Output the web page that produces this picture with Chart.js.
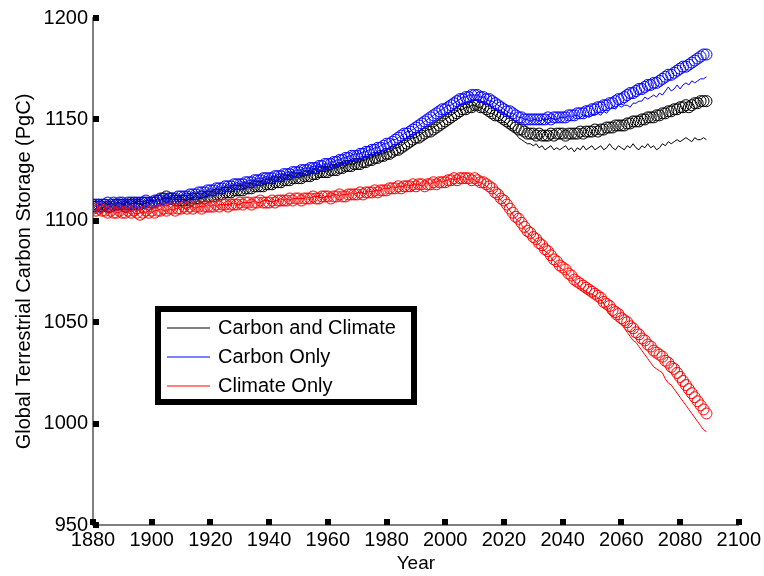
<!DOCTYPE html>
<html>
<head>
<meta charset="utf-8">
<script src="https://cdn.jsdelivr.net/npm/chart.js@4.4.1/dist/chart.umd.min.js"></script>
<style>
  body { margin: 0; background: #fff; }
  #wrap { width: 764px; height: 576px; }
</style>
</head>
<body>
<div id="wrap"><canvas id="storageChart" width="764" height="576"></canvas></div>
<script>
// annual values, 1880 - 2089 (PgC)
var firstYear = 1880;
var legendLabels = ['Carbon and Climate', 'Carbon Only', 'Climate Only'];

// circles
var carbonClimateMarks = [
  1107,1107,1108,1107,1108,1107,1107,1108,1108,1108,
  1108,1107,1108,1108,1109,1108,1108,1109,1109,1108,
  1109,1109,1110,1111,1111,1112,1111,1111,1110,1110,
  1110,1110,1111,1110,1111,1111,1111,1112,1111,1112,
  1112,1112,1113,1113,1113,1114,1114,1114,1115,1115,
  1115,1115,1116,1116,1116,1117,1117,1117,1117,1118,
  1118,1118,1119,1119,1119,1120,1120,1120,1121,1121,
  1121,1121,1122,1122,1122,1123,1123,1124,1124,1124,
  1124,1125,1125,1125,1126,1126,1127,1127,1127,1128,
  1128,1128,1129,1129,1130,1130,1131,1131,1132,1132,
  1133,1133,1134,1135,1135,1136,1137,1138,1139,1140,
  1141,1141,1142,1143,1144,1144,1145,1146,1147,1148,
  1149,1150,1151,1152,1153,1154,1155,1155,1156,1156,
  1157,1157,1156,1156,1155,1154,1153,1152,1152,1151,
  1150,1149,1148,1147,1146,1145,1145,1144,1143,1143,
  1143,1142,1143,1142,1142,1142,1143,1142,1143,1143,
  1143,1142,1143,1143,1143,1143,1144,1143,1144,1144,
  1144,1145,1144,1145,1145,1146,1146,1146,1147,1147,
  1147,1147,1148,1148,1149,1149,1149,1150,1150,1151,
  1151,1151,1152,1152,1153,1153,1154,1154,1155,1155,
  1156,1156,1157,1156,1157,1158,1158,1159,1159,1159
];
var carbonOnlyMarks = [
  1108,1108,1107,1108,1108,1109,1108,1109,1108,1109,
  1109,1108,1109,1109,1108,1109,1109,1109,1110,1109,
  1109,1110,1110,1110,1111,1110,1111,1111,1111,1112,
  1112,1112,1112,1113,1113,1113,1114,1114,1114,1115,
  1115,1115,1116,1116,1116,1117,1117,1117,1118,1118,
  1118,1118,1119,1119,1119,1120,1120,1120,1121,1121,
  1121,1121,1122,1122,1122,1123,1123,1123,1124,1124,
  1124,1125,1125,1125,1126,1126,1126,1127,1127,1128,
  1128,1128,1129,1129,1130,1130,1131,1131,1132,1132,
  1132,1133,1133,1134,1134,1135,1135,1136,1136,1137,
  1138,1138,1139,1140,1141,1142,1143,1143,1144,1145,
  1146,1147,1148,1149,1150,1151,1152,1153,1154,1155,
  1155,1156,1157,1158,1159,1160,1160,1161,1161,1162,
  1162,1162,1161,1161,1160,1160,1159,1158,1157,1156,
  1155,1154,1154,1153,1152,1151,1151,1150,1150,1150,
  1150,1150,1150,1150,1150,1151,1150,1151,1151,1151,
  1151,1151,1152,1152,1152,1153,1153,1153,1154,1154,
  1155,1155,1156,1156,1157,1157,1158,1158,1159,1160,
  1160,1161,1162,1163,1163,1164,1165,1165,1166,1167,
  1167,1168,1168,1169,1170,1171,1172,1172,1173,1174,
  1175,1176,1176,1177,1178,1179,1180,1181,1182,1182
];
var climateOnlyMarks = [
  1106,1105,1106,1105,1105,1104,1105,1104,1104,1105,
  1104,1104,1105,1104,1105,1104,1103,1104,1105,1104,
  1105,1104,1105,1105,1106,1105,1106,1106,1105,1106,
  1106,1107,1106,1107,1106,1107,1107,1106,1107,1107,
  1107,1107,1108,1107,1108,1108,1107,1108,1108,1108,
  1109,1108,1109,1109,1108,1109,1109,1110,1109,1109,
  1109,1110,1109,1110,1110,1110,1110,1111,1110,1111,
  1111,1110,1111,1111,1111,1112,1111,1111,1112,1112,
  1112,1111,1112,1112,1113,1112,1112,1113,1113,1113,
  1113,1114,1113,1114,1114,1114,1115,1114,1115,1115,
  1115,1116,1116,1116,1117,1116,1117,1117,1117,1118,
  1117,1118,1118,1117,1118,1118,1119,1118,1119,1119,
  1119,1120,1120,1121,1120,1121,1121,1121,1121,1120,
  1121,1120,1119,1119,1118,1117,1116,1114,1113,1111,
  1110,1108,1106,1104,1102,1101,1099,1097,1095,1094,
  1092,1091,1089,1088,1086,1085,1083,1081,1080,1078,
  1077,1076,1074,1073,1071,1070,1069,1068,1067,1066,
  1065,1064,1063,1062,1060,1059,1058,1056,1055,1054,
  1052,1051,1050,1048,1047,1045,1044,1042,1041,1039,
  1038,1036,1035,1034,1033,1031,1030,1028,1027,1025,
  1023,1021,1019,1017,1015,1013,1011,1009,1007,1005
];

// thin lines
var carbonClimateLine = [
  1107,1108,1107,1108,1107,1108,1108,1107,1108,1109,
  1108,1108,1107,1109,1108,1109,1108,1108,1109,1109,
  1110,1109,1111,1110,1112,1111,1112,1110,1111,1110,
  1111,1110,1110,1111,1111,1112,1111,1111,1112,1112,
  1113,1112,1113,1114,1113,1114,1115,1114,1115,1116,
  1115,1116,1116,1117,1116,1117,1118,1117,1118,1118,
  1119,1118,1119,1120,1119,1120,1121,1120,1121,1122,
  1121,1122,1122,1123,1123,1124,1123,1124,1125,1124,
  1125,1125,1126,1126,1127,1126,1127,1128,1128,1128,
  1129,1129,1130,1130,1131,1131,1132,1132,1133,1133,
  1134,1134,1135,1136,1136,1137,1138,1139,1140,1141,
  1141,1142,1143,1144,1145,1145,1146,1147,1148,1149,
  1150,1151,1152,1153,1154,1155,1155,1156,1156,1157,
  1157,1156,1156,1155,1154,1153,1153,1152,1151,1150,
  1149,1148,1146,1145,1143,1141,1140,1139,1138,1138,
  1137,1138,1136,1137,1135,1136,1137,1135,1136,1135,
  1136,1137,1135,1136,1134,1136,1135,1137,1135,1136,
  1137,1135,1136,1137,1135,1136,1138,1136,1135,1137,
  1136,1135,1137,1136,1138,1136,1135,1137,1136,1138,
  1136,1137,1135,1136,1138,1137,1139,1138,1139,1140,
  1139,1140,1141,1140,1139,1141,1140,1140,1141,1140
];
var carbonOnlyLine = [
  1108,1107,1108,1108,1109,1108,1109,1108,1109,1109,
  1108,1109,1109,1110,1109,1109,1110,1109,1110,1110,
  1110,1110,1111,1110,1111,1111,1111,1112,1111,1112,
  1112,1113,1112,1113,1114,1113,1114,1115,1114,1115,
  1116,1115,1116,1117,1116,1117,1118,1117,1118,1119,
  1118,1119,1119,1120,1120,1120,1121,1121,1121,1122,
  1121,1122,1122,1123,1123,1123,1124,1124,1124,1125,
  1125,1125,1126,1126,1126,1127,1127,1128,1127,1128,
  1128,1129,1129,1130,1130,1131,1131,1132,1132,1133,
  1133,1133,1134,1134,1135,1135,1136,1136,1137,1138,
  1138,1139,1140,1140,1141,1142,1143,1144,1144,1145,
  1146,1147,1148,1149,1150,1151,1152,1153,1154,1155,
  1156,1157,1157,1158,1159,1160,1161,1161,1162,1162,
  1162,1162,1161,1161,1160,1159,1159,1158,1157,1156,
  1155,1154,1153,1153,1152,1151,1151,1150,1150,1149,
  1150,1150,1149,1150,1150,1150,1151,1150,1150,1151,
  1151,1151,1152,1151,1152,1152,1151,1152,1152,1151,
  1152,1152,1153,1152,1154,1153,1155,1156,1155,1157,
  1156,1157,1157,1156,1158,1158,1159,1159,1161,1160,
  1161,1162,1161,1163,1162,1164,1166,1164,1165,1167,
  1165,1167,1168,1167,1169,1168,1169,1170,1170,1171
];
var climateOnlyLine = [
  1105,1106,1105,1104,1105,1104,1104,1105,1104,1104,
  1105,1104,1104,1105,1104,1103,1104,1104,1104,1105,
  1104,1105,1105,1106,1105,1105,1106,1105,1106,1106,
  1107,1106,1106,1107,1107,1106,1107,1107,1107,1108,
  1107,1108,1107,1108,1108,1108,1108,1108,1109,1108,
  1108,1109,1109,1109,1109,1110,1109,1109,1110,1110,
  1110,1109,1110,1110,1111,1110,1111,1110,1111,1111,
  1111,1111,1111,1112,1111,1112,1112,1112,1111,1112,
  1112,1112,1113,1113,1112,1113,1113,1113,1114,1113,
  1114,1114,1114,1113,1115,1114,1115,1115,1115,1116,
  1116,1116,1117,1116,1117,1117,1117,1118,1117,1118,
  1118,1118,1117,1118,1119,1118,1119,1119,1120,1119,
  1120,1120,1121,1120,1121,1121,1122,1121,1120,1121,
  1120,1119,1119,1118,1117,1116,1115,1113,1112,1110,
  1109,1107,1105,1103,1101,1100,1098,1096,1094,1093,
  1091,1090,1088,1087,1085,1084,1082,1080,1079,1077,
  1076,1075,1073,1072,1070,1069,1067,1066,1065,1064,
  1064,1063,1062,1061,1059,1057,1054,1052,1051,1050,
  1049,1047,1045,1043,1041,1040,1038,1036,1034,1032,
  1030,1028,1027,1026,1025,1022,1020,1019,1017,1015,
  1013,1011,1009,1007,1005,1003,1001,999,997,996
];

var years = [];
for (var i = 0; i < carbonClimateMarks.length; i++) years.push(firstYear + i);

var seriesColors = ['#000000', '#0000ff', '#ff0000'];
var font = '"Liberation Sans", Arial, Helvetica, sans-serif';

function lineSet(label, values, color, order) {
  return { label: label, data: values, borderColor: color, borderWidth: 1,
           pointRadius: 0, tension: 0, fill: false, order: order };
}
function markSet(label, values, color, order) {
  return { label: label, data: values, showLine: false, pointStyle: 'circle',
           pointRadius: 5.5, pointBorderWidth: 1, pointBorderColor: color,
           pointBackgroundColor: 'rgba(0,0,0,0)', borderColor: color, order: order };
}

// black square ticks inside the axes + the boxed legend
var matlabBits = {
  id: 'matlabBits',
  afterDraw: function(chart) {
    var c = chart.ctx, a = chart.chartArea;
    var xs = chart.scales.x, ys = chart.scales.y;
    c.save();
    c.fillStyle = '#000';
    xs.ticks.forEach(function(t) {
      var px = Math.round(xs.getPixelForValue(t.value));
      c.fillRect(px - 3, a.bottom - 6, 6, 6);
    });
    ys.ticks.forEach(function(t) {
      var py = Math.round(ys.getPixelForValue(t.value));
      c.fillRect(a.left, py - 3, 6, 6);
    });

    // legend
    var bx = 158, by = 309, bw = 256, bh = 93;
    c.fillStyle = '#fff';
    c.fillRect(bx, by, bw, bh);
    c.strokeStyle = '#000';
    c.lineWidth = 6;
    c.strokeRect(bx, by, bw, bh);
    c.font = '20px ' + font;
    c.textBaseline = 'middle';
    c.lineWidth = 1;
    for (var k = 0; k < legendLabels.length; k++) {
      var ly = 328 + k * 29;
      c.strokeStyle = seriesColors[k];
      c.beginPath();
      c.moveTo(167, ly);
      c.lineTo(210, ly);
      c.stroke();
      c.fillStyle = '#000';
      c.fillText(legendLabels[k], 218, ly);
    }
    c.restore();
  }
};

new Chart(document.getElementById('storageChart'), {
  type: 'line',
  data: {
    labels: years,
    datasets: [
      lineSet(legendLabels[0], carbonClimateLine, seriesColors[0], 6),
      lineSet(legendLabels[1], carbonOnlyLine, seriesColors[1], 5),
      lineSet(legendLabels[2], climateOnlyLine, seriesColors[2], 4),
      markSet(legendLabels[0], carbonClimateMarks, seriesColors[0], 3),
      markSet(legendLabels[1], carbonOnlyMarks, seriesColors[1], 2),
      markSet(legendLabels[2], climateOnlyMarks, seriesColors[2], 1)
    ]
  },
  options: {
    responsive: false,
    animation: false,
    layout: { padding: { top: 18, right: 25, left: 0, bottom: 0 } },
    plugins: { legend: { display: false }, tooltip: { enabled: false } },
    scales: {
      x: {
        type: 'linear', min: 1880, max: 2100,
        border: { color: '#808080', width: 2 },
        grid: { display: false, drawTicks: false },
        ticks: { stepSize: 20, padding: 3, color: '#000', maxRotation: 0,
                 font: { family: font, size: 20 },
                 callback: function(v) { return String(v); } },
        title: { display: true, text: 'Year', color: '#000', padding: { top: 0, bottom: 1 },
                 font: { family: font, size: 19 } },
        afterFit: function(s) { s.height = 51; }
      },
      y: {
        min: 950, max: 1200,
        border: { color: '#808080', width: 2 },
        grid: { display: false, drawTicks: false },
        ticks: { stepSize: 50, padding: 5, color: '#000',
                 font: { family: font, size: 20 },
                 callback: function(v) { return String(v); } },
        title: { display: true, text: 'Global Terrestrial Carbon Storage (PgC)', color: '#000',
                 padding: { top: 12, bottom: 2 },
                 font: { family: font, size: 20 } },
        afterFit: function(s) { s.width = 93; }
      }
    }
  },
  plugins: [matlabBits]
});
</script>
</body>
</html>
